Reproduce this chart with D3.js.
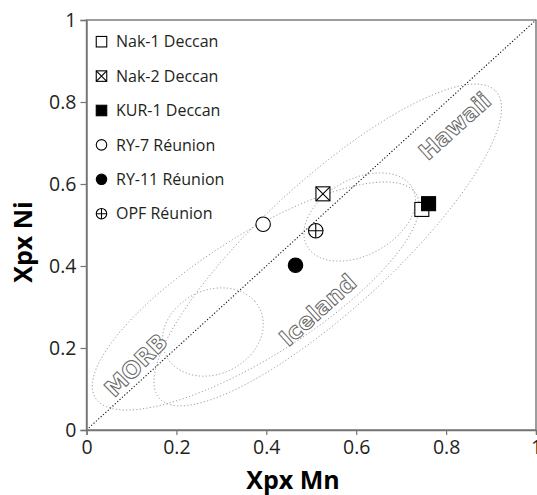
<!DOCTYPE html>
<html><head><meta charset="utf-8">
<script src="https://cdn.jsdelivr.net/npm/d3@7"></script>
<style>
html,body{margin:0;padding:0;background:#fff;}
svg{display:block;}
</style></head>
<body>
<svg id="chart" width="537" height="495"></svg>
<script>
// ---- data ----
const samples = ["Nak-1 Deccan","Nak-2 Deccan","KUR-1 Deccan","RY-7 Réunion","RY-11 Réunion","OPF Réunion"];
const xpxMn = [0.746, 0.526, 0.761, 0.393, 0.465, 0.510];
const xpxNi = [0.538, 0.576, 0.552, 0.502, 0.402, 0.486];
const symbols = ["squareOpen","squareCross","squareFilled","circleOpen","circleFilled","circleCross"];

const tickValues = [0, 0.2, 0.4, 0.6, 0.8, 1];
const tickLabels = ["0","0.2","0.4","0.6","0.8","1"];

// fields (ellipses) in data units: centre, semi-axes, rotation (deg)
const fieldCx    = [0.3767, 0.2811, 0.5367, 0.6078];
const fieldCy    = [0.3268, 0.2390, 0.4512, 0.5195];
const fieldRx    = [0.4351, 0.1196, 0.5297, 0.1372];
const fieldRy    = [0.1426, 0.0994, 0.1510, 0.0903];
const fieldAngle = [35.5, 38.6, 45.5, 34.5];

const fieldLabels = ["MORB","Iceland","Hawaii"];
const fieldLabelX = [0.110, 0.514, 0.819];
const fieldLabelY = [0.1585, 0.2927, 0.7415];
const fieldLabelRot = [-45, -42, -42];

// ---- layout ----
const svg = d3.select("#chart");
const x = d3.scaleLinear().domain([0,1]).range([86.5, 536]);
const y = d3.scaleLinear().domain([0,1]).range([430, 20]);
const axisColor = "#747474";
const textColor = "#231f20";

// ellipses
const line = d3.line().x(d=>x(d[0])).y(d=>y(d[1])).curve(d3.curveLinearClosed);
fieldCx.forEach((cx,i)=>{
  const a = fieldAngle[i]*Math.PI/180, rx = fieldRx[i], ry = fieldRy[i], cy = fieldCy[i];
  const pts = d3.range(0, 360, 1).map(deg=>{
    const t = deg*Math.PI/180;
    return [cx + rx*Math.cos(t)*Math.cos(a) - ry*Math.sin(t)*Math.sin(a),
            cy + rx*Math.cos(t)*Math.sin(a) + ry*Math.sin(t)*Math.cos(a)];
  });
  svg.append("path").attr("d", line(pts)).attr("fill","none")
    .attr("stroke","#9a9a9a").attr("stroke-width",1).attr("stroke-dasharray","1.2,2.2");
});

// field labels (outlined text)
fieldLabels.forEach((t,i)=>{
  svg.append("text").attr("transform",`translate(${x(fieldLabelX[i])},${y(fieldLabelY[i])}) rotate(${fieldLabelRot[i]})`)
    .attr("text-anchor","middle").attr("dy","0.36em")
    .attr("font-family","DejaVu Sans").attr("font-weight","bold").attr("font-size",23)
    .attr("fill","#fff").attr("stroke","#666").attr("stroke-width",1)
    .text(t);
});

// 1:1 line
svg.append("line").attr("x1",x(0)).attr("y1",y(0)).attr("x2",x(1)).attr("y2",y(1))
  .attr("stroke","#111").attr("stroke-width",1.1).attr("stroke-dasharray","1.2,2");

// frame
svg.append("rect").attr("x",x(0)).attr("y",y(1)).attr("width",x(1)-x(0)).attr("height",y(0)-y(1))
  .attr("fill","none").attr("stroke",axisColor).attr("stroke-width",1.4);

// axes
const xAxis = d3.axisBottom(x).tickValues(tickValues).tickFormat((d,i)=>tickLabels[i]).tickSize(5).tickPadding(5);
const yAxis = d3.axisLeft(y).tickValues(tickValues).tickFormat((d,i)=>tickLabels[i]).tickSize(6).tickPadding(4);
const gx = svg.append("g").attr("transform",`translate(0,${y(0)})`).call(xAxis);
const gy = svg.append("g").attr("transform",`translate(${x(0)},0)`).call(yAxis);
[gx,gy].forEach(g=>{
  g.select(".domain").attr("stroke",axisColor).attr("stroke-width",1.4);
  g.selectAll(".tick line").attr("stroke",axisColor).attr("stroke-width",1.2);
  g.selectAll(".tick text").attr("font-family","Open Sans").attr("font-size",19.5).attr("fill",textColor);
});

// axis titles
svg.append("text").attr("x",293).attr("y",489).attr("text-anchor","middle")
  .attr("font-family","Open Sans").attr("font-weight","bold").attr("font-size",25).attr("fill","#000").text("Xpx Mn");
svg.append("text").attr("transform","translate(32,242) rotate(-90)").attr("text-anchor","middle")
  .attr("font-family","Open Sans").attr("font-weight","bold").attr("font-size",25).attr("fill","#000").text("Xpx Ni");

// symbol drawing
function drawSymbol(g, type, cx, cy, size){
  const h = size/2;
  if(type.startsWith("square")){
    g.append("rect").attr("x",cx-h).attr("y",cy-h).attr("width",size).attr("height",size)
      .attr("fill", type==="squareFilled" ? "#000" : "#fff").attr("stroke","#000").attr("stroke-width",1.1);
    if(type==="squareCross"){
      g.append("path").attr("d",`M${cx-h},${cy-h}L${cx+h},${cy+h}M${cx+h},${cy-h}L${cx-h},${cy+h}`)
        .attr("stroke","#000").attr("stroke-width",1.1);
    }
  } else {
    g.append("circle").attr("cx",cx).attr("cy",cy).attr("r",h)
      .attr("fill", type==="circleFilled" ? "#000" : "#fff").attr("stroke","#000").attr("stroke-width",1.1);
    if(type==="circleCross"){
      g.append("path").attr("d",`M${cx-h},${cy}L${cx+h},${cy}M${cx},${cy-h}L${cx},${cy+h}`)
        .attr("stroke","#000").attr("stroke-width",1.1);
    }
  }
}

// data points
const gp = svg.append("g");
samples.forEach((s,i)=>{
  drawSymbol(gp, symbols[i], x(xpxMn[i]), y(xpxNi[i]), symbols[i].startsWith("square") ? 14 : 14.5);
});

// legend
const gl = svg.append("g");
samples.forEach((s,i)=>{
  const ly = 41.7 + i*34.4;
  drawSymbol(gl, symbols[i], 101.5, ly, 10.5);
  gl.append("text").attr("x",116).attr("y",ly).attr("dy","0.36em")
    .attr("font-family","Open Sans").attr("font-size",16).attr("fill",textColor).text(s);
});
</script>
</body></html>
